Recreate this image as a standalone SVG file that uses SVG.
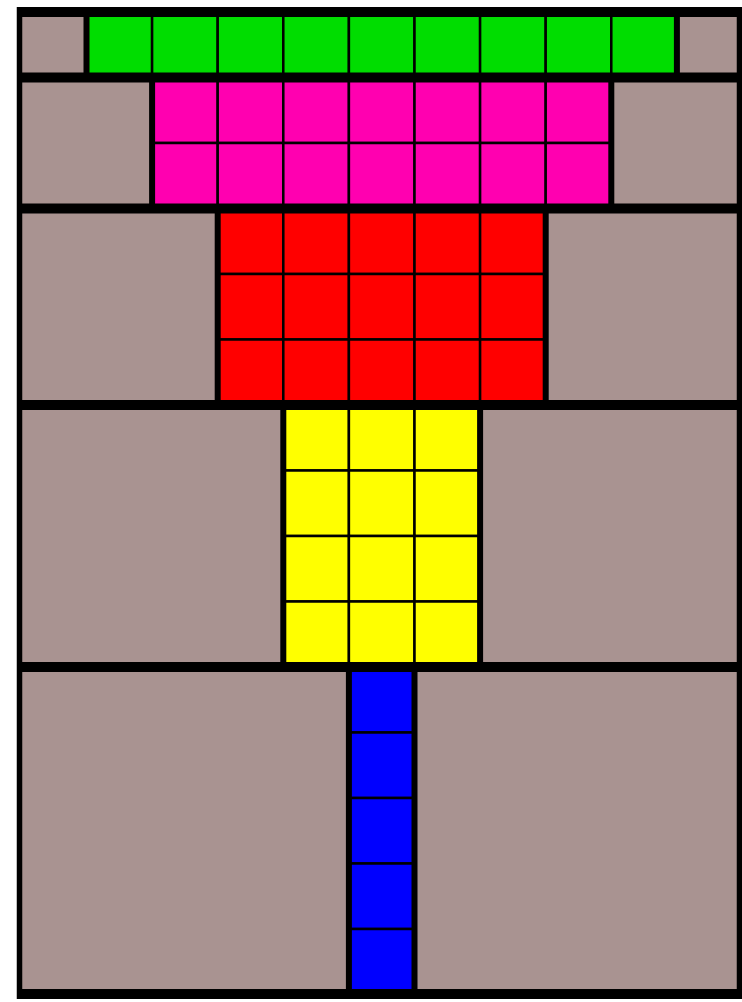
<svg xmlns="http://www.w3.org/2000/svg" width="742" height="1002" viewBox="0 0 742 1002">
<style>
.bg{fill:#a99391;stroke:#000;stroke-width:2}
.c{stroke:#000;stroke-width:2.5}
.g{fill:#00dd00}.m{fill:#ff00b0}.r{fill:#ff0000}.y{fill:#ffff00}.b{fill:#0000ff}
.blk{fill:none;stroke:#000;stroke-width:6}
.sep{stroke:#000;stroke-width:10}
.side{stroke:#000;stroke-width:5.5}
</style>
<rect width="742" height="1002" fill="#fff"/>
<g id="row1">
<rect class="bg" x="19.5" y="12" width="67" height="65.5"/>
<rect class="bg" x="676.9" y="12" width="62.6" height="65.5"/>
<g id="green">
<rect class="c g" x="86.5" y="12" width="65.6" height="65.5"/>
<rect class="c g" x="152.1" y="12" width="65.6" height="65.5"/>
<rect class="c g" x="217.7" y="12" width="65.6" height="65.5"/>
<rect class="c g" x="283.3" y="12" width="65.6" height="65.5"/>
<rect class="c g" x="348.9" y="12" width="65.6" height="65.5"/>
<rect class="c g" x="414.5" y="12" width="65.6" height="65.5"/>
<rect class="c g" x="480.1" y="12" width="65.6" height="65.5"/>
<rect class="c g" x="545.7" y="12" width="65.6" height="65.5"/>
<rect class="c g" x="611.3" y="12" width="65.6" height="65.5"/>
<rect class="blk" x="86.5" y="12" width="590.4" height="65.5"/>
</g>
</g>
<g id="row2">
<rect class="bg" x="19.5" y="77.5" width="132.6" height="131"/>
<rect class="bg" x="611.3" y="77.5" width="128.2" height="131"/>
<g id="magenta">
<rect class="c m" x="152.1" y="77.5" width="65.6" height="65.5"/>
<rect class="c m" x="217.7" y="77.5" width="65.6" height="65.5"/>
<rect class="c m" x="283.3" y="77.5" width="65.6" height="65.5"/>
<rect class="c m" x="348.9" y="77.5" width="65.6" height="65.5"/>
<rect class="c m" x="414.5" y="77.5" width="65.6" height="65.5"/>
<rect class="c m" x="480.1" y="77.5" width="65.6" height="65.5"/>
<rect class="c m" x="545.7" y="77.5" width="65.6" height="65.5"/>
<rect class="c m" x="152.1" y="143" width="65.6" height="65.5"/>
<rect class="c m" x="217.7" y="143" width="65.6" height="65.5"/>
<rect class="c m" x="283.3" y="143" width="65.6" height="65.5"/>
<rect class="c m" x="348.9" y="143" width="65.6" height="65.5"/>
<rect class="c m" x="414.5" y="143" width="65.6" height="65.5"/>
<rect class="c m" x="480.1" y="143" width="65.6" height="65.5"/>
<rect class="c m" x="545.7" y="143" width="65.6" height="65.5"/>
<rect class="blk" x="152.1" y="77.5" width="459.2" height="131"/>
</g>
</g>
<g id="row3">
<rect class="bg" x="19.5" y="208.5" width="198.2" height="196.5"/>
<rect class="bg" x="545.7" y="208.5" width="193.8" height="196.5"/>
<g id="red">
<rect class="c r" x="217.7" y="208.5" width="65.6" height="65.5"/>
<rect class="c r" x="283.3" y="208.5" width="65.6" height="65.5"/>
<rect class="c r" x="348.9" y="208.5" width="65.6" height="65.5"/>
<rect class="c r" x="414.5" y="208.5" width="65.6" height="65.5"/>
<rect class="c r" x="480.1" y="208.5" width="65.6" height="65.5"/>
<rect class="c r" x="217.7" y="274" width="65.6" height="65.5"/>
<rect class="c r" x="283.3" y="274" width="65.6" height="65.5"/>
<rect class="c r" x="348.9" y="274" width="65.6" height="65.5"/>
<rect class="c r" x="414.5" y="274" width="65.6" height="65.5"/>
<rect class="c r" x="480.1" y="274" width="65.6" height="65.5"/>
<rect class="c r" x="217.7" y="339.5" width="65.6" height="65.5"/>
<rect class="c r" x="283.3" y="339.5" width="65.6" height="65.5"/>
<rect class="c r" x="348.9" y="339.5" width="65.6" height="65.5"/>
<rect class="c r" x="414.5" y="339.5" width="65.6" height="65.5"/>
<rect class="c r" x="480.1" y="339.5" width="65.6" height="65.5"/>
<rect class="blk" x="217.7" y="208.5" width="328" height="196.5"/>
</g>
</g>
<g id="row4">
<rect class="bg" x="19.5" y="405" width="263.8" height="262"/>
<rect class="bg" x="480.1" y="405" width="259.4" height="262"/>
<g id="yellow">
<rect class="c y" x="283.3" y="405" width="65.6" height="65.5"/>
<rect class="c y" x="348.9" y="405" width="65.6" height="65.5"/>
<rect class="c y" x="414.5" y="405" width="65.6" height="65.5"/>
<rect class="c y" x="283.3" y="470.5" width="65.6" height="65.5"/>
<rect class="c y" x="348.9" y="470.5" width="65.6" height="65.5"/>
<rect class="c y" x="414.5" y="470.5" width="65.6" height="65.5"/>
<rect class="c y" x="283.3" y="536" width="65.6" height="65.5"/>
<rect class="c y" x="348.9" y="536" width="65.6" height="65.5"/>
<rect class="c y" x="414.5" y="536" width="65.6" height="65.5"/>
<rect class="c y" x="283.3" y="601.5" width="65.6" height="65.5"/>
<rect class="c y" x="348.9" y="601.5" width="65.6" height="65.5"/>
<rect class="c y" x="414.5" y="601.5" width="65.6" height="65.5"/>
<rect class="blk" x="283.3" y="405" width="196.8" height="262"/>
</g>
</g>
<g id="row5">
<rect class="bg" x="19.5" y="667" width="329.4" height="327"/>
<rect class="bg" x="414.5" y="667" width="325" height="327"/>
<g id="blue">
<rect class="c b" x="348.9" y="667" width="65.6" height="65.5"/>
<rect class="c b" x="348.9" y="732.5" width="65.6" height="65.5"/>
<rect class="c b" x="348.9" y="798" width="65.6" height="65.5"/>
<rect class="c b" x="348.9" y="863.5" width="65.6" height="65.5"/>
<rect class="c b" x="348.9" y="929" width="65.6" height="65"/>
<rect class="blk" x="348.9" y="667" width="65.6" height="327"/>
</g>
</g>
<g id="frame">
<line class="sep" x1="17" y1="12" x2="742" y2="12"/>
<line class="sep" x1="17" y1="77.5" x2="742" y2="77.5"/>
<line class="sep" x1="17" y1="208.5" x2="742" y2="208.5"/>
<line class="sep" x1="17" y1="405" x2="742" y2="405"/>
<line class="sep" x1="17" y1="667" x2="742" y2="667"/>
<line class="sep" x1="17" y1="994" x2="742" y2="994"/>
<line class="side" x1="19.5" y1="7" x2="19.5" y2="999"/>
<line class="side" x1="739.5" y1="7" x2="739.5" y2="999"/>
</g>
</svg>
